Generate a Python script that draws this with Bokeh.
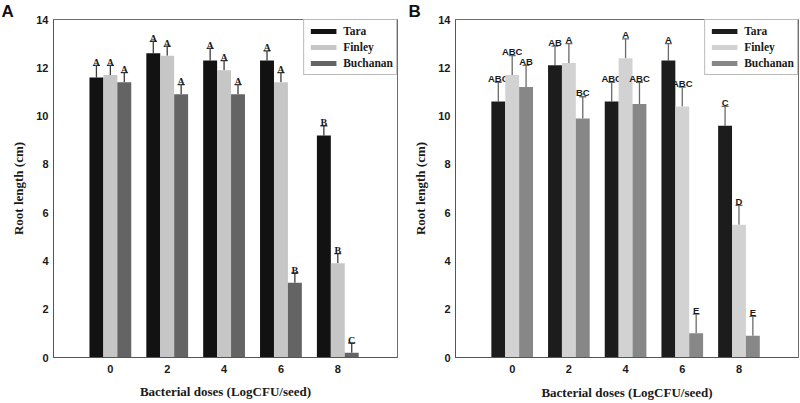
from bokeh.plotting import figure
from bokeh.layouts import row
from bokeh.models import FixedTicker, Range1d, Whisker, ColumnDataSource, TeeHead
from bokeh.core.properties import value
from bokeh.embed import file_html
from bokeh.resources import INLINE

doses = [0, 2, 4, 6, 8]
series = ["Tara", "Finley", "Buchanan"]

# Panel A
a_tara = [11.6, 12.6, 12.3, 12.3, 9.2]
a_finley = [11.7, 12.5, 11.9, 11.4, 3.9]
a_buchanan = [11.4, 10.9, 10.9, 3.1, 0.2]
a_tara_err = [0.5, 0.5, 0.5, 0.4, 0.4]
a_finley_err = [0.4, 0.4, 0.4, 0.4, 0.4]
a_buchanan_err = [0.4, 0.4, 0.4, 0.4, 0.4]
a_tara_sig = ["A", "A", "A", "A", "B"]
a_finley_sig = ["A", "A", "A", "A", "B"]
a_buchanan_sig = ["A", "A", "A", "B", "C"]

# Panel B
b_tara = [10.6, 12.1, 10.6, 12.3, 9.6]
b_finley = [11.7, 12.2, 12.4, 10.4, 5.5]
b_buchanan = [11.2, 9.9, 10.5, 1.0, 0.9]
b_tara_err = [0.8, 0.8, 0.8, 0.7, 0.8]
b_finley_err = [0.8, 0.8, 0.8, 0.8, 0.8]
b_buchanan_err = [0.9, 0.9, 0.9, 0.8, 0.8]
b_tara_sig = ["ABC", "AB", "ABC", "A", "C"]
b_finley_sig = ["ABC", "A", "A", "ABC", "D"]
b_buchanan_sig = ["AB", "BC", "ABC", "E", "E"]

y_ticks = [0, 2, 4, 6, 8, 10, 12, 14]
offsets = [-0.49, 0.0, 0.49]
bar_w = 0.49

SANS = "Liberation Sans"
SERIF = "Liberation Serif"


def make_panel(letter, vals, errs, sigs, colors, err_color, sig_font, sig_size,
               sig_gap, borders, letter_off, x_standoffs):
    left, right, top, bottom = borders
    p = figure(width=400, height=403, output_backend="svg", toolbar_location=None,
               x_range=Range1d(-2, 10.1), y_range=Range1d(0, 14),
               min_border_left=left, min_border_right=right,
               min_border_top=top, min_border_bottom=bottom)
    p.background_fill_color = "white"
    p.border_fill_color = "white"
    p.outline_line_color = "#6e6e6e"
    p.outline_line_width = 1
    p.xgrid.visible = False
    p.ygrid.visible = False

    for name, v, e, s, c, off in zip(series, vals, errs, sigs, colors, offsets):
        xs = [d + off for d in doses]
        src = ColumnDataSource(dict(x=xs, top=v, upper=[a + b for a, b in zip(v, e)], sig=s))
        p.vbar(x="x", top="top", width=bar_w, source=src, fill_color=c,
               line_color=None, legend_label=name)
        w = Whisker(base="x", lower="top", upper="upper", source=src,
                    line_color=err_color, line_width=1.3, lower_head=None,
                    upper_head=TeeHead(size=7, line_color=err_color, line_width=1.3))
        p.add_layout(w)
        p.text(x="x", y="upper", text="sig", source=src, text_align="center",
               text_baseline="alphabetic", y_offset=-sig_gap,
               text_font=value(sig_font), text_font_style="bold",
               text_font_size=sig_size, text_color="#1a1a1a")

    for ax in (p.xaxis[0], p.yaxis[0]):
        ax.major_tick_out = 0
        ax.major_tick_in = 0
        ax.minor_tick_out = 0
        ax.minor_tick_in = 0
        ax.axis_line_color = "#555555"
        ax.axis_line_width = 1
        ax.major_label_text_font = SANS
        ax.major_label_text_font_style = "bold"
        ax.major_label_text_font_size = "11px"
        ax.major_label_text_color = "#1a1a1a"
        ax.axis_label_text_font = SERIF
        ax.axis_label_text_font_style = "bold"
        ax.axis_label_text_font_size = "13px"
        ax.axis_label_text_color = "#1a1a1a"
    p.xaxis.ticker = FixedTicker(ticks=doses)
    p.yaxis.ticker = FixedTicker(ticks=y_ticks)
    p.xaxis.axis_label = "Bacterial doses (LogCFU/seed)"
    p.yaxis.axis_label = "Root length (cm)"
    p.xaxis.major_label_standoff = x_standoffs[0]
    p.xaxis.axis_label_standoff = x_standoffs[1]
    p.yaxis.major_label_standoff = 5
    p.yaxis.axis_label_standoff = 7

    lg = p.legend[0]
    lg.location = "top_right"
    lg.margin = 0
    lg.padding = 3
    lg.spacing = 0
    lg.glyph_width = 32
    lg.glyph_height = 6
    lg.label_height = 16
    lg.label_standoff = 4
    lg.label_text_font = SERIF
    lg.label_text_font_style = "bold"
    lg.label_text_font_size = "11.5px"
    lg.label_text_color = "#1a1a1a"
    lg.border_line_color = "#777777"
    lg.border_line_width = 1
    lg.background_fill_color = "white"

    p.title.text = letter
    p.title.align = "left"
    p.title.offset = letter_off
    p.title.standoff = -3
    p.title.text_font = SANS
    p.title.text_font_style = "bold"
    p.title.text_font_size = "17px"
    p.title.text_color = "#111111"
    return p


pa = make_panel("A", [a_tara, a_finley, a_buchanan],
                [a_tara_err, a_finley_err, a_buchanan_err],
                [a_tara_sig, a_finley_sig, a_buchanan_sig],
                ["#121212", "#c6c6c6", "#646464"], "#3c3c3c",
                SERIF, "10px", 3, (53, 3, 19, 44), -52, (7, 8))
pb = make_panel("B", [b_tara, b_finley, b_buchanan],
                [b_tara_err, b_finley_err, b_buchanan_err],
                [b_tara_sig, b_finley_sig, b_buchanan_sig],
                ["#1c1c1c", "#d2d2d2", "#878787"], "#6a6a6a",
                SANS, "9.5px", 4, (55, 2, 17, 46), -47, (7, 9))

layout = row(pa, pb)
open("out.html", "w").write(file_html(layout, INLINE))
